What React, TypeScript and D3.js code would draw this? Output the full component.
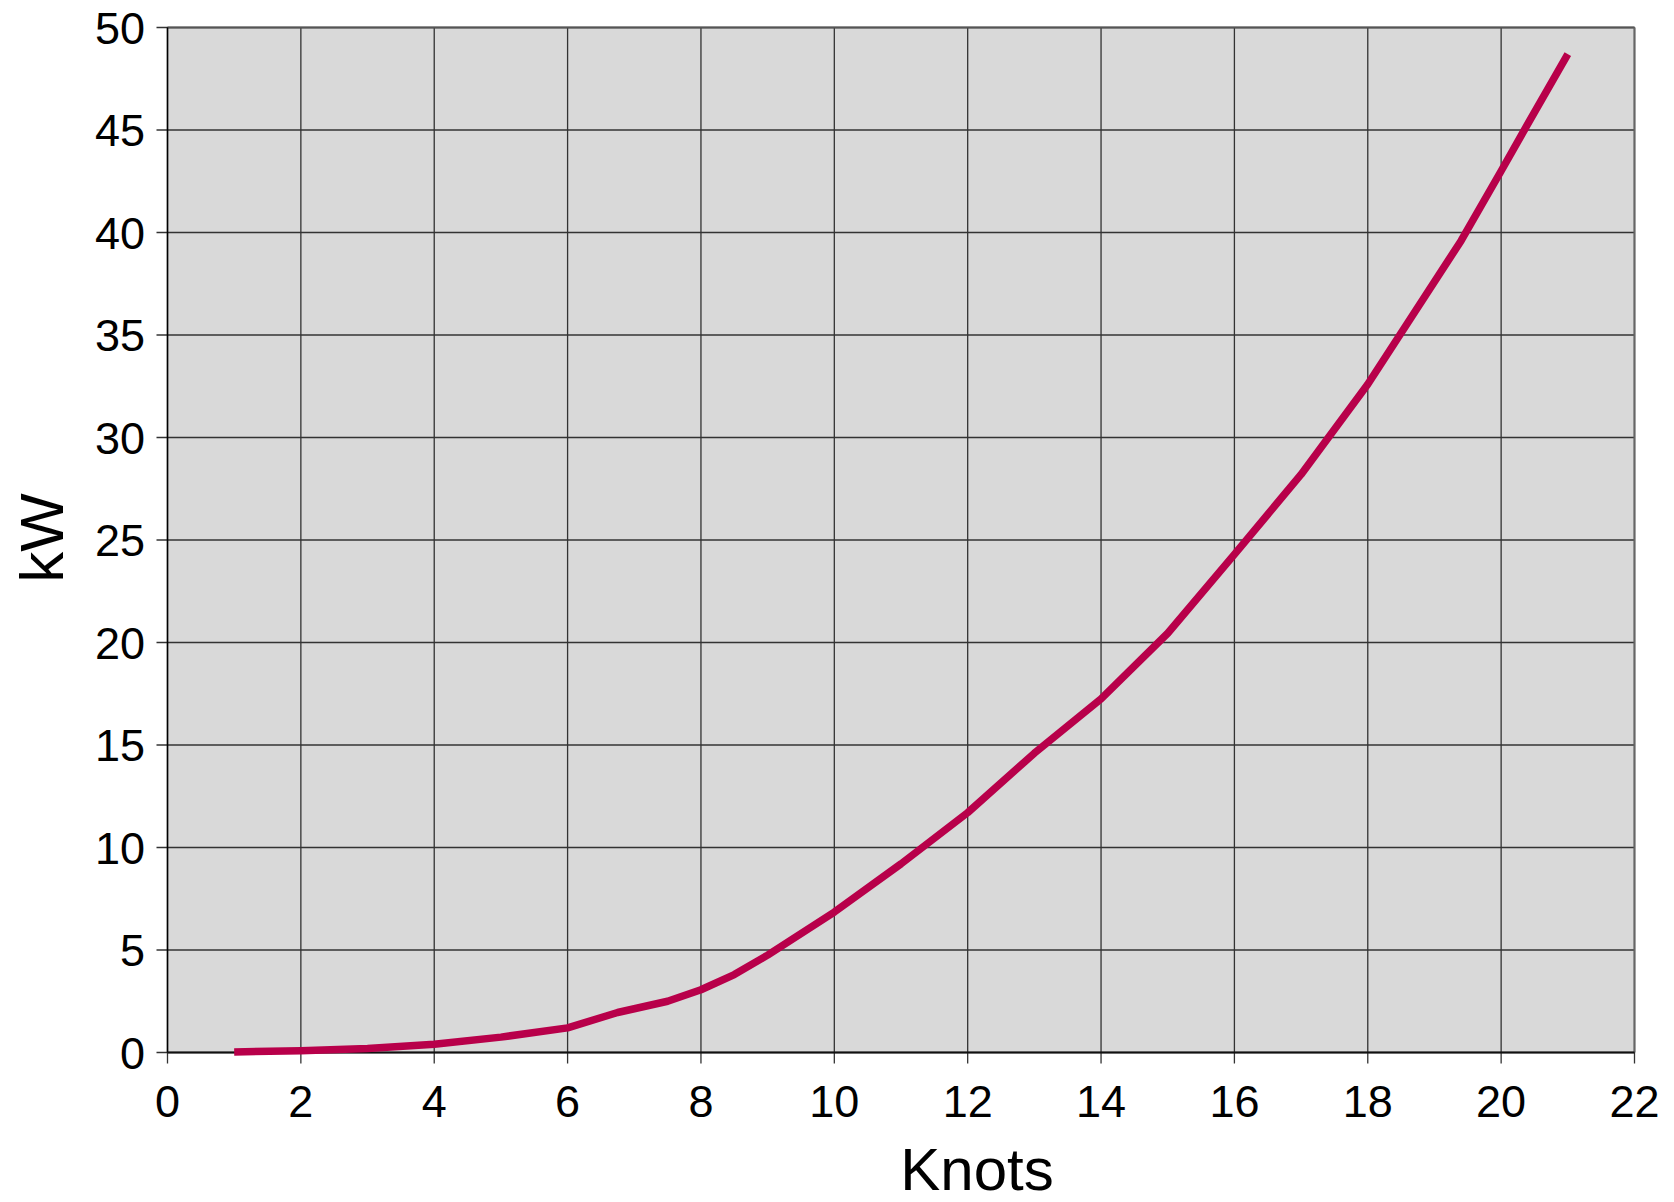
import React from "react";
import * as d3 from "d3";

const knots: number[] = [1, 2, 3, 4, 5, 6, 6.75, 7.5, 8, 8.5, 9, 10, 11, 12, 13, 14, 15, 16, 17, 18, 18.6, 19.4, 20, 20.4, 21];
const kw: number[] = [0.03, 0.08, 0.2, 0.4, 0.75, 1.2, 1.95, 2.5, 3.06, 3.8, 4.75, 6.85, 9.2, 11.7, 14.6, 17.25, 20.45, 24.3, 28.2, 32.6, 35.6, 39.6, 43.0, 45.3, 48.7];
const xTicks: number[] = [0, 2, 4, 6, 8, 10, 12, 14, 16, 18, 20, 22];
const yTicks: number[] = [0, 5, 10, 15, 20, 25, 30, 35, 40, 45, 50];
const xTitle = "Knots";
const yTitle = "kW";

const W = 1674;
const H = 1202;
const left = 167.5;
const right = 1634.5;
const top = 27.5;
const bottom = 1052.5;
const font = "'Liberation Sans', Arial, Helvetica, sans-serif";

export default function App() {
  const x = d3.scaleLinear().domain([0, 22]).range([left, right]);
  const y = d3.scaleLinear().domain([0, 50]).range([bottom, top]);
  const data = knots.map((k, i) => [k, kw[i]] as [number, number]);
  const line = d3
    .line<[number, number]>()
    .x((d) => x(d[0]))
    .y((d) => y(d[1]))
    .curve(d3.curveLinear);

  return (
    <svg
      width={W}
      height={H}
      style={{ position: "absolute", left: 0, top: 0, display: "block", background: "#fff" }}
    >
      <rect x={left} y={top} width={right - left} height={bottom - top} fill="#d9d9d9" />
      {xTicks.map((t) => (
        <line key={"gx" + t} x1={x(t)} x2={x(t)} y1={top} y2={bottom + 11} stroke="#333" strokeWidth={1.3} />
      ))}
      {yTicks.map((t) => (
        <line key={"gy" + t} x1={left - 11} x2={right} y1={y(t)} y2={y(t)} stroke="#333" strokeWidth={1.3} />
      ))}
      <line x1={left} x2={right} y1={top} y2={top} stroke="#555" strokeWidth={2} />
      <line x1={right} x2={right} y1={top} y2={bottom} stroke="#666" strokeWidth={2} />
      <line x1={left} x2={left} y1={top} y2={bottom} stroke="#000" strokeWidth={1.5} />
      <line x1={left} x2={right} y1={bottom} y2={bottom} stroke="#111" strokeWidth={2} />
      <path d={line(data) || ""} fill="none" stroke="#b8004a" strokeWidth={7.5} strokeLinejoin="round" />
      {yTicks.map((t) => (
        <text
          key={"ly" + t}
          x={145}
          y={y(t) + 16}
          textAnchor="end"
          fontFamily={font}
          fontSize={45}
          fill="#000"
        >
          {t}
        </text>
      ))}
      {xTicks.map((t) => (
        <text
          key={"lx" + t}
          x={x(t)}
          y={1117}
          textAnchor="middle"
          fontFamily={font}
          fontSize={45}
          fill="#000"
        >
          {t}
        </text>
      ))}
      <text x={977} y={1190} textAnchor="middle" fontFamily={font} fontSize={60} fill="#000">
        {xTitle}
      </text>
      <text
        transform={`translate(63,538) rotate(-90)`}
        textAnchor="middle"
        fontFamily={font}
        fontSize={62}
        fill="#000"
      >
        {yTitle}
      </text>
    </svg>
  );
}
